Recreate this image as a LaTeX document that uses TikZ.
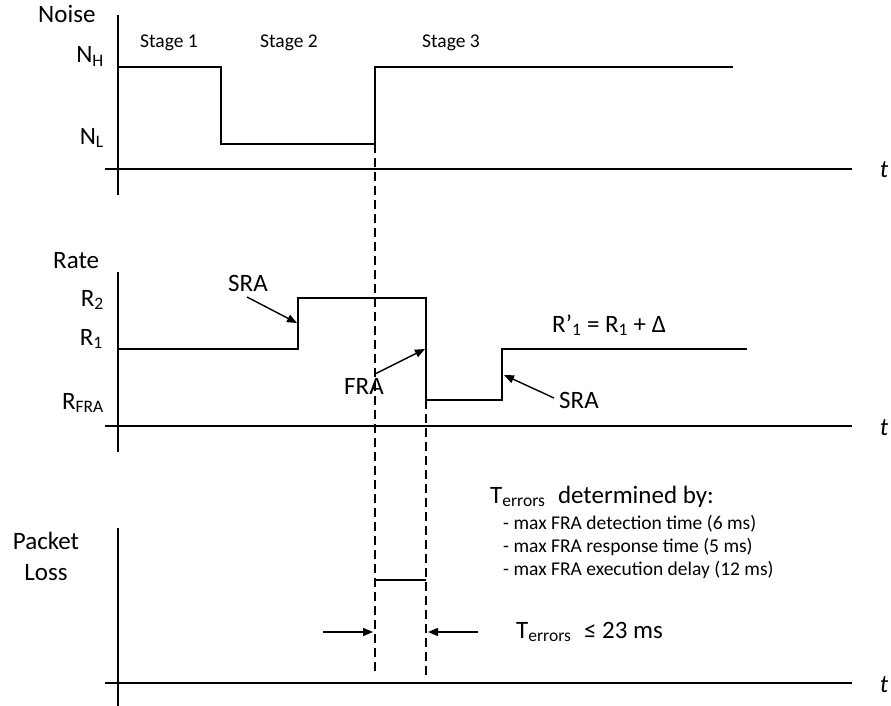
\documentclass[tikz,border=0pt]{standalone}
\usepackage{fontspec}
\setmainfont{Carlito}
\usetikzlibrary{arrows.meta}
\begin{document}
\begin{tikzpicture}[x=1pt,y=-1pt,
  ax/.style={line width=1.7pt},
  sig/.style={line width=1.7pt},
  guide/.style={line width=1.4pt,dash pattern=on 9pt off 5pt},
  ptr/.style={line width=1.4pt,-{Triangle[length=10pt,width=8pt]}},
  big/.style={inner sep=0pt,font=\fontsize{25}{30}\selectfont},
  small/.style={inner sep=0pt,font=\fontsize{19.5}{24}\selectfont},
]
\useasboundingbox (0,0) rectangle (891,706);

% ---------- Noise panel ----------
\draw[ax] (118,15) -- (118,195);
\draw[ax] (105,169) -- (852,169);
\node[big,anchor=base] (tN) at (884,177) {\textit{t}};
\node[big,anchor=base west] (noise) at (38,23) {Noise};
\node[big,anchor=base east] (NH) at (104,63) {N\textsubscript{H}};
\node[big,anchor=base east] (NL) at (104,144) {N\textsubscript{L}};
\node[small,anchor=base west] (st1) at (140,48) {Stage 1};
\node[small,anchor=base west] (st2) at (260,48) {Stage 2};
\node[small,anchor=base west] (st3) at (422,48) {Stage 3};
\draw[sig] (118,67) -- (221,67) -- (221,144) -- (375,144) -- (375,67) -- (733,67);

% ---------- Rate panel ----------
\draw[ax] (118,272) -- (118,452);
\draw[ax] (105,426) -- (852,426);
\node[big,anchor=base] (tR) at (884,435) {\textit{t}};
\node[big,anchor=base west] (rate) at (53,268) {Rate};
\node[big,anchor=base east] (R2) at (104,306) {R\textsubscript{2}};
\node[big,anchor=base east] (R1) at (103,345) {R\textsubscript{1}};
\node[big,anchor=base east] (RF) at (104,409) {R\textsubscript{FRA}};
\draw[sig] (118,349) -- (298,349) -- (298,298) -- (426,298) -- (426,400)
  -- (502,400) -- (502,349) -- (747,349);
\node[big,anchor=base west] (sraL) at (228,291) {SRA};
\node[big,anchor=base west] (fra) at (344,394) {FRA};
\node[big,anchor=base west] (sraR) at (559,408) {SRA};
\node[big,anchor=base west] (rp) at (552,332) {R’\textsubscript{1} = R\textsubscript{1} + Δ};
\coordinate (a1s) at (247,297); \coordinate (a1e) at (297,323);
\coordinate (a2s) at (375,374); \coordinate (a2e) at (425,349);
\coordinate (a3s) at (554,398); \coordinate (a3e) at (504,375);
\draw[ptr] (a1s) -- (a1e);
\draw[ptr] (a2s) -- (a2e);
\draw[ptr] (a3s) -- (a3e);

% ---------- Packet loss panel ----------
\draw[ax] (118,528) -- (118,706);
\draw[ax] (105,683) -- (852,683);
\node[big,anchor=base] (tP) at (884,692) {\textit{t}};
\node[big,anchor=base] (pk) at (46,549) {Packet};
\node[big,anchor=base] (ls) at (46,580) {Loss};
\draw[sig] (375,580) -- (426,580);

% ---------- dashed guides ----------
\draw[guide] (375,144) -- (375,675);
\draw[guide] (426,400) -- (426,675);

% ---------- T_errors ----------
\coordinate (d1s) at (323,632); \coordinate (d1e) at (373,632);
\coordinate (d2s) at (478,632); \coordinate (d2e) at (428,632);
\draw[ptr] (d1s) -- (d1e);
\draw[ptr] (d2s) -- (d2e);
\node[big,anchor=base west] (terr) at (516,638) {T\textsubscript{errors}\hspace{7pt} ≤ 23 ms};
\node[big,anchor=base west] (det) at (490,503) {T\textsubscript{errors}\hspace{7pt} determined by:};
\node[small,anchor=base west] (i1) at (503,529) {- max FRA detection time (6 ms)};
\node[small,anchor=base west] (i2) at (503,552) {- max FRA response time (5 ms)};
\node[small,anchor=base west] (i3) at (503,575) {- max FRA execution delay (12 ms)};
\end{tikzpicture}
\end{document}
